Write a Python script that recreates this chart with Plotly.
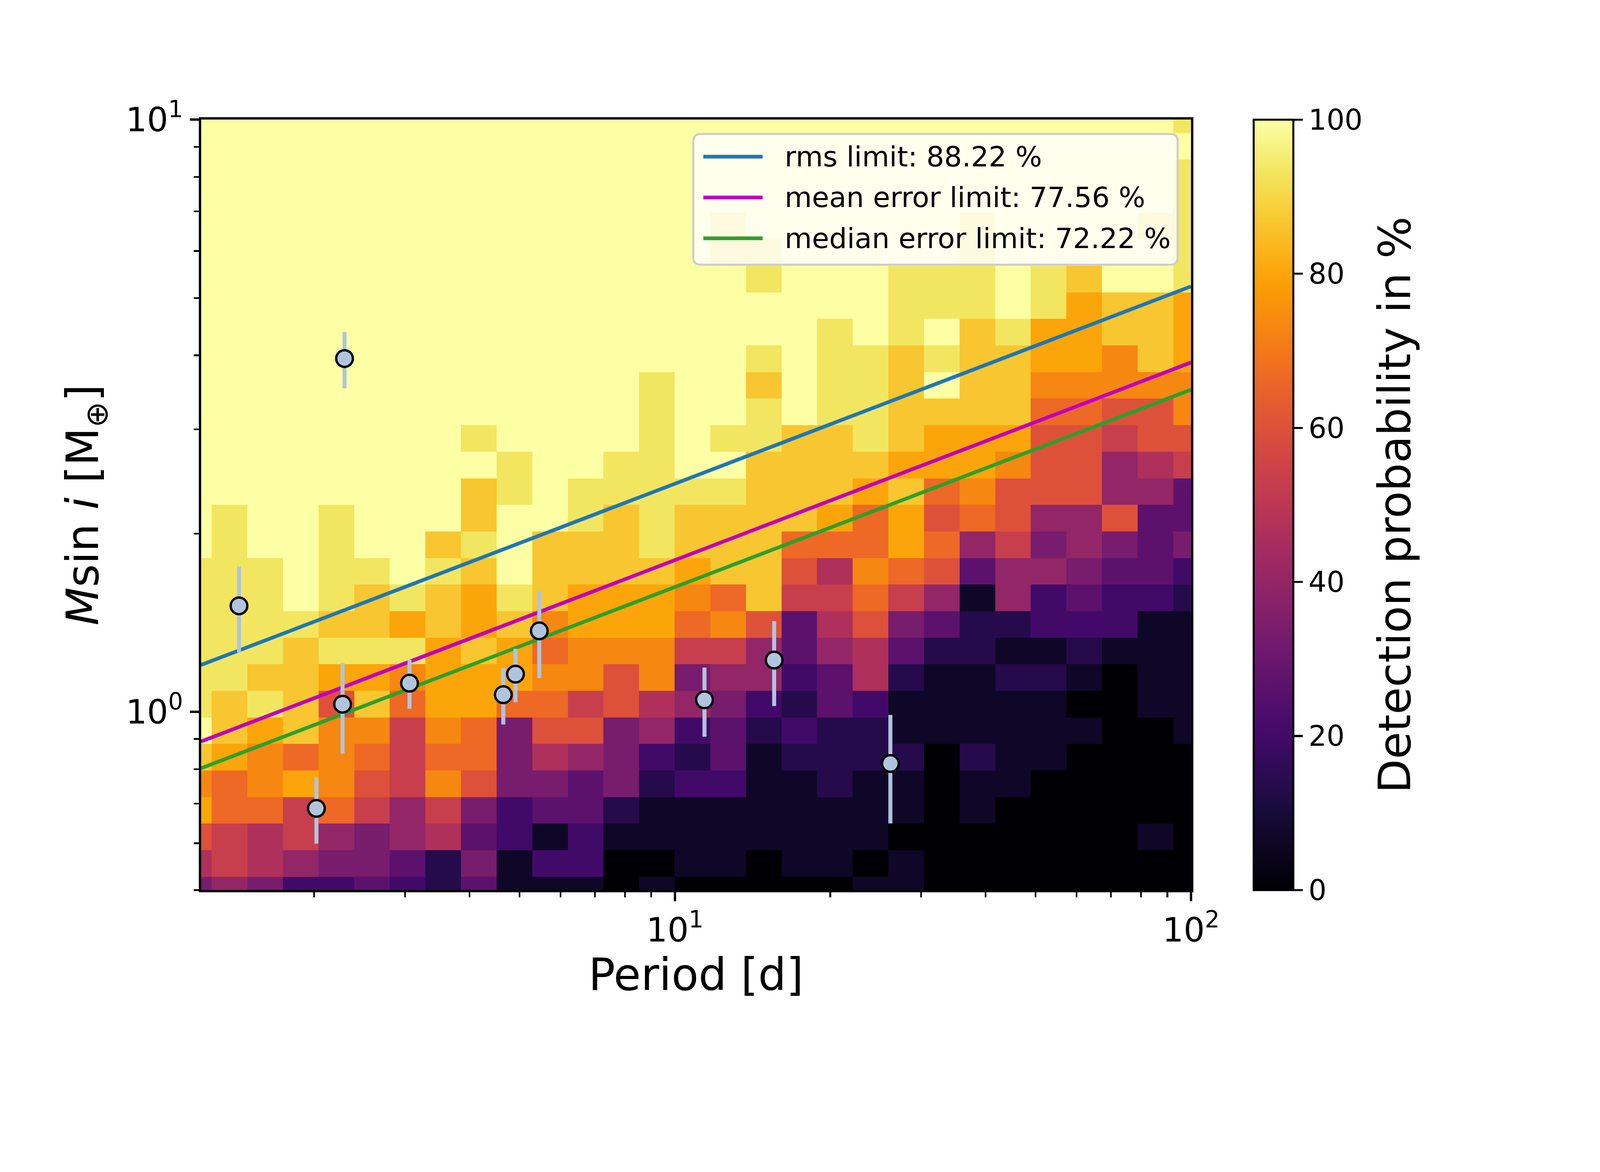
import numpy as np
import plotly.graph_objects as go

# grid of injected signals: bin centres
periods = [1.169, 1.371, 1.607, 1.884, 2.208, 2.588, 3.034, 3.556, 4.169, 4.887,
           5.728, 6.714, 7.870, 9.226, 10.81, 12.68, 14.86, 17.42, 20.42, 23.93,
           28.05, 32.89, 38.55, 45.19, 52.97, 62.09, 72.78, 85.31, 100.0]
masses = [0.500, 0.5545, 0.6148, 0.6818, 0.7560, 0.8383, 0.9293, 1.0304, 1.1426, 1.2669,
          1.4048, 1.5577, 1.7272, 1.9152, 2.1237, 2.3548, 2.6112, 2.8954, 3.2105, 3.5600,
          3.9474, 4.377, 4.853, 5.382, 5.967, 6.617, 7.337, 8.135, 9.020, 10.0]

n_injected = 15
# recovered signals per cell, one row per mass bin (lowest mass first)
detections = [
    [5, 6, 5, 3, 3, 4, 3, 2, 4, 1, 1, 1, 0, 1, 0, 0, 0, 0, 0, 1, 1, 0, 0, 0, 0, 0, 0, 0, 0],
    [7, 8, 7, 6, 5, 5, 4, 2, 5, 1, 3, 3, 0, 0, 1, 1, 0, 1, 1, 0, 1, 0, 0, 0, 0, 0, 0, 0, 0],
    [9, 8, 7, 8, 6, 5, 6, 7, 4, 3, 1, 3, 1, 1, 1, 1, 1, 1, 1, 1, 0, 0, 0, 0, 0, 0, 0, 1, 0],
    [12, 10, 10, 8, 10, 8, 6, 8, 5, 3, 4, 4, 2, 1, 1, 1, 1, 1, 1, 1, 1, 0, 1, 0, 0, 0, 0, 0, 0],
    [11, 10, 11, 12, 11, 9, 8, 11, 9, 5, 5, 4, 5, 2, 3, 3, 1, 1, 2, 1, 1, 0, 1, 1, 0, 0, 0, 0, 0],
    [13, 12, 11, 10, 11, 10, 8, 10, 10, 5, 7, 6, 5, 3, 2, 4, 1, 2, 2, 2, 2, 0, 2, 1, 1, 0, 0, 0, 0],
    [15, 13, 12, 13, 11, 11, 8, 11, 10, 5, 9, 9, 5, 6, 3, 4, 2, 3, 2, 2, 1, 1, 1, 1, 1, 1, 0, 0, 1],
    [14, 13, 14, 13, 9, 13, 10, 12, 12, 10, 10, 8, 9, 7, 6, 5, 3, 2, 4, 3, 1, 1, 1, 1, 1, 0, 0, 1, 1],
    [14, 14, 13, 13, 12, 12, 11, 12, 12, 12, 11, 11, 9, 11, 5, 6, 6, 3, 4, 7, 2, 1, 1, 2, 2, 1, 0, 1, 1],
    [14, 14, 14, 13, 14, 14, 14, 12, 13, 12, 10, 11, 11, 11, 8, 8, 6, 4, 6, 7, 4, 2, 2, 1, 1, 2, 1, 1, 1],
    [14, 14, 14, 14, 13, 13, 12, 13, 12, 13, 11, 12, 12, 12, 10, 11, 9, 4, 7, 9, 5, 4, 2, 2, 3, 3, 3, 1, 1],
    [14, 14, 14, 15, 14, 13, 14, 13, 12, 14, 13, 12, 12, 12, 11, 10, 13, 8, 8, 10, 8, 6, 1, 6, 3, 4, 3, 3, 2],
    [14, 14, 14, 15, 14, 14, 15, 14, 13, 15, 13, 13, 13, 13, 12, 13, 13, 9, 7, 11, 10, 9, 4, 6, 6, 5, 4, 4, 3],
    [15, 14, 15, 15, 14, 15, 15, 13, 14, 15, 13, 13, 13, 14, 13, 13, 13, 10, 10, 10, 12, 10, 6, 8, 5, 6, 5, 4, 5],
    [15, 14, 15, 15, 14, 15, 15, 15, 13, 15, 15, 14, 13, 14, 13, 13, 13, 13, 12, 10, 12, 9, 10, 9, 6, 6, 9, 4, 4],
    [15, 15, 15, 15, 15, 15, 15, 15, 13, 14, 15, 14, 14, 14, 14, 14, 13, 13, 13, 12, 13, 10, 11, 9, 9, 9, 6, 6, 4],
    [15, 15, 15, 15, 15, 15, 15, 15, 15, 14, 15, 15, 14, 14, 15, 15, 13, 13, 13, 13, 12, 12, 12, 11, 9, 9, 6, 7, 8],
    [15, 15, 15, 15, 15, 15, 15, 15, 14, 15, 15, 15, 15, 14, 15, 14, 14, 13, 13, 14, 13, 12, 12, 12, 9, 9, 8, 9, 9],
    [15, 15, 15, 15, 15, 15, 15, 15, 15, 15, 15, 15, 15, 14, 15, 15, 14, 15, 14, 14, 13, 13, 13, 13, 10, 10, 9, 9, 11],
    [15, 15, 15, 15, 15, 15, 15, 15, 15, 15, 15, 15, 15, 14, 15, 15, 13, 15, 14, 14, 13, 15, 13, 13, 11, 11, 11, 11, 11],
    [15, 15, 15, 15, 15, 15, 15, 15, 15, 15, 15, 15, 15, 15, 15, 15, 14, 15, 14, 14, 13, 14, 13, 13, 12, 12, 11, 13, 12],
    [15, 15, 15, 15, 15, 15, 15, 15, 15, 15, 15, 15, 15, 15, 15, 15, 15, 15, 14, 15, 14, 15, 13, 14, 12, 12, 13, 13, 12],
    [15, 15, 15, 15, 15, 15, 15, 15, 15, 15, 15, 15, 15, 15, 15, 15, 15, 15, 15, 15, 14, 14, 14, 15, 14, 12, 13, 13, 12],
    [15, 15, 15, 15, 15, 15, 15, 15, 15, 15, 15, 15, 15, 15, 15, 15, 14, 15, 15, 15, 14, 14, 14, 15, 14, 13, 15, 15, 14],
    [15, 15, 15, 15, 15, 15, 15, 15, 15, 15, 15, 15, 15, 15, 15, 14, 14, 15, 15, 15, 15, 15, 14, 15, 15, 15, 15, 15, 14],
    [15, 15, 15, 15, 15, 15, 15, 15, 15, 15, 15, 15, 15, 15, 15, 14, 15, 15, 15, 15, 15, 15, 14, 15, 15, 15, 15, 14, 14],
    [15, 15, 15, 15, 15, 15, 15, 15, 15, 15, 15, 15, 15, 15, 15, 15, 15, 15, 15, 15, 15, 15, 15, 15, 15, 15, 15, 15, 14],
    [15, 15, 15, 15, 15, 15, 15, 15, 15, 15, 15, 15, 15, 15, 15, 15, 15, 15, 15, 15, 15, 15, 15, 15, 15, 15, 15, 15, 14],
    [15, 15, 15, 15, 15, 15, 15, 15, 15, 15, 15, 15, 15, 15, 15, 15, 15, 15, 15, 15, 15, 15, 15, 15, 15, 15, 15, 15, 15],
    [15, 15, 15, 15, 15, 15, 15, 15, 15, 15, 15, 15, 15, 15, 15, 15, 15, 15, 15, 15, 15, 15, 15, 15, 15, 15, 15, 15, 14],
]

# known planets
planet_period = [1.43, 2.02, 2.27, 2.29, 3.06, 4.65, 4.91, 5.46, 11.41, 15.57, 26.15]
planet_msini = [1.51, 0.687, 1.03, 3.95, 1.118, 1.069, 1.158, 1.37, 1.048, 1.223, 0.818]
planet_err = [0.25, 0.088, 0.18, 0.43, 0.106, 0.117, 0.12, 0.23, 0.14, 0.20, 0.17]

# detection limits (straight lines in log-log)
limit_period = [1.207, 100.0]
rms_limit = [1.200, 5.23]
mean_limit = [0.891, 3.89]
median_limit = [0.803, 3.50]
limit_names = ["rms limit: 88.22 %", "mean error limit: 77.56 %", "median error limit: 72.22 %"]
limit_colors = ["#1f77b4", "#bf00bf", "#2ca02c"]

inferno = [
    [0.0, "#000004"], [0.1, "#160b39"], [0.1111, "#1b0c41"], [0.2, "#420a68"],
    [0.2222, "#4a0c6b"], [0.3, "#6a176e"], [0.3333, "#781c6d"], [0.4, "#932667"],
    [0.4444, "#a52c60"], [0.5, "#bc3754"], [0.5556, "#cf4446"], [0.6, "#dd513a"],
    [0.6667, "#ed6925"], [0.7, "#f37819"], [0.7778, "#fb9b06"], [0.8, "#fca50a"],
    [0.8889, "#f7d13d"], [0.9, "#f6d746"], [0.9333, "#f2e661"], [1.0, "#fcffa4"],
]


def log_edges(centres):
    c = np.log10(centres)
    mid = (c[1:] + c[:-1]) / 2
    e = np.concatenate([[c[0] - (c[1] - c[0]) / 2], mid, [c[-1] + (c[-1] - c[-2]) / 2]])
    return 10 ** e


FONT = "DejaVu Sans"
W, H = 4800, 3000
L, R, T, B = 603, 1227, 359, 330

z = np.array(detections) * 100.0 / n_injected

fig = go.Figure()
fig.add_trace(go.Heatmap(
    x=log_edges(periods), y=log_edges(masses), z=z,
    zmin=0, zmax=100, colorscale=inferno, zsmooth=False,
    colorbar=dict(
        x=1.0633, xanchor="left", xpad=0, y=0.5, yanchor="middle", ypad=0,
        len=1, thickness=119, outlinecolor="black", outlinewidth=6,
        ticks="outside", ticklen=26, tickwidth=6, tickcolor="black",
        tickvals=[0, 20, 40, 60, 80, 100], tickfont=dict(size=85, family=FONT, color="black"),
    ),
    showlegend=False,
))

for ys, name, col in zip([rms_limit, mean_limit, median_limit], limit_names, limit_colors):
    fig.add_trace(go.Scatter(x=limit_period, y=ys, mode="lines", name=name,
                             line=dict(color=col, width=11), showlegend=False))

fig.add_trace(go.Scatter(
    x=planet_period, y=planet_msini, mode="markers", showlegend=False,
    marker=dict(size=50, color="#b0c4de", line=dict(color="black", width=7)),
    error_y=dict(type="data", array=planet_err, color="#b0c4de", thickness=12, width=0),
))

# legend box drawn by hand so the line samples get matplotlib-like length
x0, x1, y0, y1 = 0.4973, 0.9865, 0.8118, 0.9814
rx, ry = 22 / 2970, 22 / 2311
box = (f"M {x0+rx},{y0} L {x1-rx},{y0} Q {x1},{y0} {x1},{y0+ry} L {x1},{y1-ry} "
       f"Q {x1},{y1} {x1-rx},{y1} L {x0+rx},{y1} Q {x0},{y1} {x0},{y1-ry} "
       f"L {x0},{y0+ry} Q {x0},{y0} {x0+rx},{y0} Z")
shapes = [dict(type="path", path=box, xref="paper", yref="paper",
               fillcolor="rgba(255,255,255,0.8)", line=dict(color="#cccccc", width=6))]
annotations = []
for k, (name, col) in enumerate(zip(limit_names, limit_colors)):
    yy = 0.9520 - k * 0.0530
    shapes.append(dict(type="line", xref="paper", yref="paper", x0=0.5074, x1=0.5673,
                       y0=yy, y1=yy, line=dict(color=col, width=11)))
    annotations.append(dict(text=name, xref="paper", yref="paper", x=0.5889, y=yy,
                            xanchor="left", yanchor="middle", showarrow=False,
                            font=dict(size=84, family=FONT, color="black")))

# colour bar label
annotations.append(dict(text="Detection probability in %", xref="paper", yref="paper",
                        x=1.2057, y=0.5, xanchor="center", yanchor="middle",
                        textangle=-90, showarrow=False,
                        font=dict(size=133, family=FONT, color="black")))

axis_common = dict(
    type="log", showgrid=False, zeroline=False, showline=True, mirror=True,
    linecolor="black", linewidth=7, ticks="outside", ticklen=27, tickwidth=6.5,
    tickcolor="black", tickfont=dict(size=100, family=FONT, color="black"),
    automargin=False,
)

fig.update_layout(
    width=W, height=H, margin=dict(l=L, r=R, t=T, b=B),
    paper_bgcolor="white", plot_bgcolor="white",
    font=dict(family=FONT, color="black"),
    shapes=shapes, annotations=annotations,
    xaxis=dict(
        **axis_common, range=[np.log10(1.207), 2],
        tickvals=[10, 100], ticktext=["10<sup>1</sup>", "10<sup>2</sup>"],
        minor=dict(tickvals=[2, 3, 4, 5, 6, 7, 8, 9, 20, 30, 40, 50, 60, 70, 80, 90],
                   ticks="outside", ticklen=15, tickwidth=5, tickcolor="black"),
        title=dict(text="Period [d]", font=dict(size=133, family=FONT), standoff=20),
    ),
    yaxis=dict(
        **axis_common, range=[np.log10(0.5), 1],
        tickvals=[1, 10], ticktext=["10<sup>0</sup>", "10<sup>1</sup>"],
        minor=dict(tickvals=[0.5, 0.6, 0.7, 0.8, 0.9, 2, 3, 4, 5, 6, 7, 8, 9],
                   ticks="outside", ticklen=15, tickwidth=5, tickcolor="black"),
        title=dict(text="<i>M</i>sin <i>i</i> [M<sub>⊕</sub>]",
                   font=dict(size=133, family=FONT), standoff=40),
    ),
)

# if the browser viewport is narrower than the 4800 px figure, shrink the page to fit it
fit_js = """
document.documentElement.style.margin = '0';
document.body.style.margin = '0';
document.body.style.overflow = 'hidden';
var gd = document.getElementById('{plot_id}');
var s = window.innerWidth / 4800;
if (s < 1) { gd.style.zoom = s; }
"""

fig.write_html("out.html", post_script=fit_js, config={"displayModeBar": False})
